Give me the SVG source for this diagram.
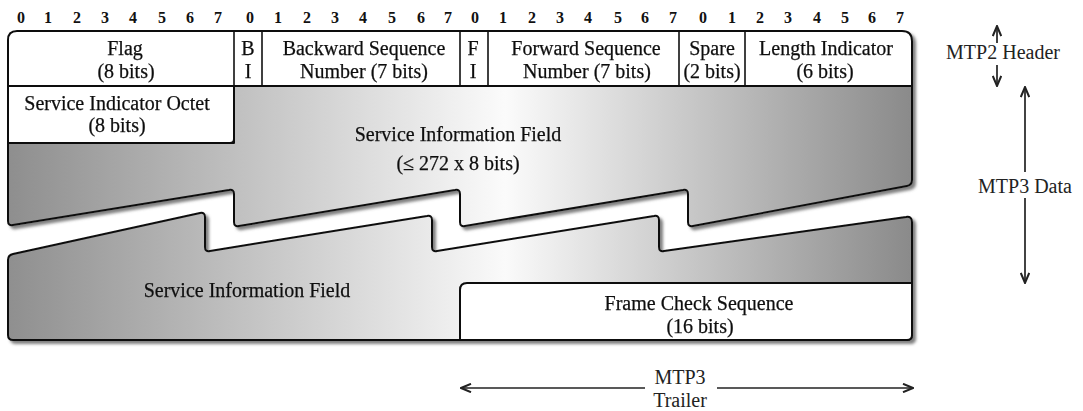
<svg xmlns="http://www.w3.org/2000/svg" width="1083" height="411" viewBox="0 0 1083 411">
<style>
text{font-family:"Liberation Serif","Times New Roman",serif;fill:#111;text-anchor:middle}
.t{font-size:20px;stroke:#111;stroke-width:0.25}
.bit{font-size:16px;font-weight:bold;fill:#111}
.lbl{font-size:20px;fill:#222}
.ol{stroke:#111;stroke-width:2;stroke-linejoin:round}
.dv{stroke:#111;stroke-width:1.6}
.ar{stroke:#222;stroke-width:1.7;fill:none;marker-end:url(#ah)}
</style>
<defs>
<linearGradient id="gU" gradientUnits="userSpaceOnUse" x1="8" y1="0" x2="912" y2="0">
<stop offset="0" stop-color="#8e8e8e"/><stop offset="0.55" stop-color="#fbfbfb"/><stop offset="1" stop-color="#8a8a8a"/>
</linearGradient>
<linearGradient id="gL" gradientUnits="userSpaceOnUse" x1="8" y1="0" x2="912" y2="0">
<stop offset="0" stop-color="#8f8f8f"/><stop offset="0.55" stop-color="#fafafa"/><stop offset="1" stop-color="#8a8a8a"/>
</linearGradient>
<filter id="sh" x="-5%" y="-10%" width="115%" height="130%">
<feDropShadow dx="3" dy="3" stdDeviation="1.5" flood-color="#6a6a6a" flood-opacity="0.85"/>
</filter>
<marker id="ah" viewBox="0 0 12 10" refX="11" refY="5" markerWidth="12" markerHeight="10" markerUnits="userSpaceOnUse" orient="auto-start-reverse">
<path d="M1,0.8 L11,5 L1,9.2" fill="none" stroke="#222" stroke-width="2"/>
</marker>
</defs>
<rect width="1083" height="411" fill="#ffffff"/>
<g id="bits" class="bit">
<text x="21" y="23">0</text><text x="48" y="23">1</text><text x="77" y="23">2</text><text x="105" y="23">3</text><text x="133" y="23">4</text><text x="162" y="23">5</text><text x="190" y="23">6</text><text x="218" y="23">7</text>
<text x="250" y="23">0</text><text x="278" y="23">1</text><text x="307" y="23">2</text><text x="335" y="23">3</text><text x="363" y="23">4</text><text x="392" y="23">5</text><text x="421" y="23">6</text><text x="448" y="23">7</text>
<text x="475" y="23">0</text><text x="503" y="23">1</text><text x="532" y="23">2</text><text x="560" y="23">3</text><text x="588" y="23">4</text><text x="618" y="23">5</text><text x="645" y="23">6</text><text x="673" y="23">7</text>
<text x="703" y="23">0</text><text x="732" y="23">1</text><text x="760" y="23">2</text><text x="788" y="23">3</text><text x="817" y="23">4</text><text x="845" y="23">5</text><text x="872" y="23">6</text><text x="900" y="23">7</text>
</g>
<g id="lower-block" filter="url(#sh)">
<g id="sif-lower">
<path class="ol" fill="url(#gL)" d="M8,260 Q8,255 13,254 L200,213 Q205,212 205,217 L205,247 Q205,252 210,251 L427,216 Q432,215 432,220 L432,247 Q432,252 437,251 L654,216 Q659,215 659,220 L659,247 Q659,252 664,251 L906,217 Q912,216 912,222 L912,335 Q912,340 907,340 L13,340 Q8,340 8,335 Z"/>
<text class="t" x="247" y="297">Service Information Field</text>
</g>
<g id="fcs">
<path class="ol" fill="#ffffff" d="M460,340 L460,290 Q460,283 467,283 L912,283 L912,335 Q912,340 907,340 Z"/>
<text class="t" x="699" y="310">Frame Check Sequence</text>
<text class="t" x="700" y="333">(16 bits)</text>
</g>
</g>
<g id="upper-block" filter="url(#sh)">
<g id="sif-upper">
<path class="ol" fill="url(#gU)" d="M234,86 L912,86 L912,180 Q912,185 907,186 L693,226 Q688,227 688,222 L688,194 Q688,189 683,190 L465,226 Q460,227 460,222 L460,194 Q460,189 455,190 L239,226 Q234,227 234,222 L234,194 Q234,189 229,190 L13,225 Q8,226 8,221 L8,143 L234,143 Z"/>
<text class="t" x="458" y="141">Service Information Field</text>
<text class="t" x="458" y="170">(≤ 272 x 8 bits)</text>
</g>
<g id="sio">
<path class="ol" fill="#ffffff" d="M8,86 L234,86 L234,139 Q234,143 230,143 L8,143 Z"/>
<text class="t" x="117" y="110">Service Indicator Octet</text>
<text class="t" x="117" y="132">(8 bits)</text>
</g>
<g id="header">
<path class="ol" fill="#ffffff" d="M8,86 L8,40 Q8,31 17,31 L902,31 Q912,31 912,41 L912,86 Z"/>
<line class="dv" x1="234" y1="31" x2="234" y2="86"/>
<line class="dv" x1="262" y1="31" x2="262" y2="86"/>
<line class="dv" x1="460" y1="31" x2="460" y2="86"/>
<line class="dv" x1="488" y1="31" x2="488" y2="86"/>
<line class="dv" x1="679" y1="31" x2="679" y2="86"/>
<line class="dv" x1="745" y1="31" x2="745" y2="86"/>
</g>
<g id="flag"><text class="t" x="125" y="55">Flag</text><text class="t" x="126" y="78">(8 bits)</text></g>
<g id="bi"><text class="t" x="248" y="55">B</text><text class="t" x="248" y="78">I</text></g>
<g id="bsn"><text class="t" x="364" y="55">Backward Sequence</text><text class="t" x="364" y="78">Number (7 bits)</text></g>
<g id="fi"><text class="t" x="473" y="55">F</text><text class="t" x="473" y="78">I</text></g>
<g id="fsn"><text class="t" x="586" y="55">Forward Sequence</text><text class="t" x="587" y="78">Number (7 bits)</text></g>
<g id="spare"><text class="t" x="712" y="55">Spare</text><text class="t" x="712" y="78">(2 bits)</text></g>
<g id="li"><text class="t" x="826" y="55">Length Indicator</text><text class="t" x="825" y="78">(6 bits)</text></g>
</g>
<g id="connectors">
<line class="ar" x1="997" y1="43" x2="997" y2="26"/>
<line class="ar" x1="997" y1="65" x2="997" y2="86"/>
<line class="ar" x1="1025" y1="172" x2="1025" y2="87"/>
<line class="ar" x1="1025" y1="198" x2="1025" y2="283"/>
<line class="ar" x1="645" y1="388" x2="461" y2="388"/>
<line class="ar" x1="717" y1="388" x2="913" y2="388"/>
</g>
<g id="mtp2-header"><text class="lbl" x="1003" y="59">MTP2 Header</text></g>
<g id="mtp3-data"><text class="lbl" x="1025" y="193">MTP3 Data</text></g>
<g id="mtp3-trailer"><text class="lbl" x="680" y="384">MTP3</text><text class="lbl" x="680" y="407">Trailer</text></g>
</svg>
